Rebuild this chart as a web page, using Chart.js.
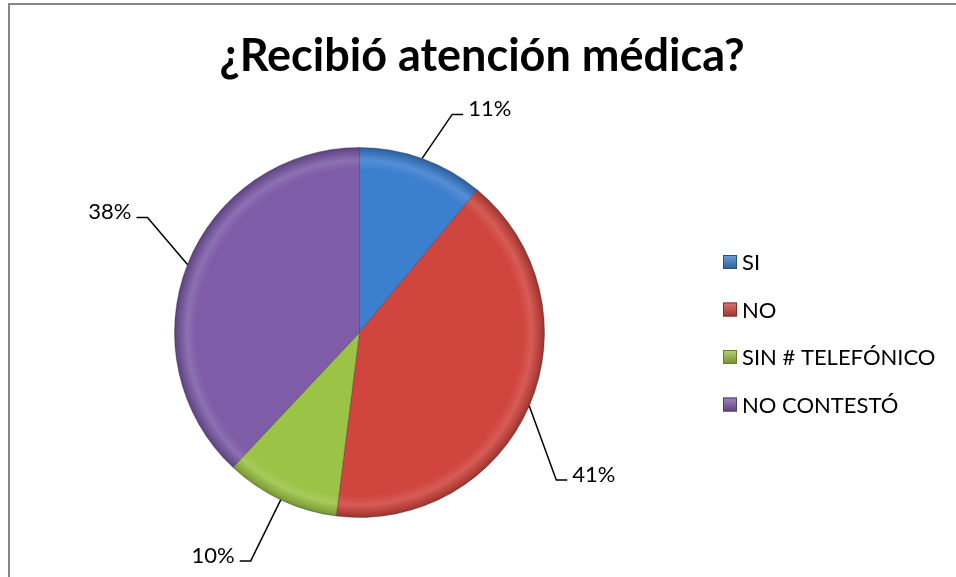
<!DOCTYPE html>
<html>
<head>
<meta charset="utf-8">
<script src="https://cdn.jsdelivr.net/npm/chart.js@4.4.0/dist/chart.umd.min.js"></script>
<style>
  html, body { margin: 0; padding: 0; background: #fff; }
  #wrap { position: relative; width: 956px; height: 577px; overflow: hidden; }
  #frame { position: absolute; left: 8px; top: 3px; width: 1000px; height: 700px;
           border-top: 2px solid #868686; border-left: 2px solid #868686; }
  #chart { position: absolute; left: 0; top: 0; }
</style>
</head>
<body>
<div id="wrap">
  <div id="frame"></div>
  <canvas id="chart" width="956" height="577"></canvas>
</div>
<script>
  'use strict';

  var chartTitle  = '¿Recibió atención médica?';
  var categories  = ['SI', 'NO', 'SIN # TELEFÓNICO', 'NO CONTESTÓ'];
  var percents    = [11, 41, 10, 38];
  var pctLabels   = ['11%', '41%', '10%', '38%'];

  var colors = {
    blue   : '#3D7FCF',
    red    : '#D0463F',
    green  : '#9BC345',
    purple : '#7E5CA8',
    line   : '#000',
    text   : '#000'
  }
  var sliceColors = [colors.blue, colors.red, colors.green, colors.purple];

  // where each leader line bends, relative to the rim point of its slice
  var leaderBend = [[30, -44], [27, 74], [-30, 61], [-40, -47]];

  var fontFamily = "Lato, 'Open Sans', sans-serif";

  function shade(hex, f) {
    var n = parseInt(hex.slice(1), 16);
    var r = (n >> 16) & 255, g = (n >> 8) & 255, b = n & 255;
    if (f < 0) { r = r * (1 + f); g = g * (1 + f); b = b * (1 + f); }
    else { r = r + (255 - r) * f; g = g + (255 - g) * f; b = b + (255 - b) * f; }
    return 'rgb(' + Math.round(r) + ',' + Math.round(g) + ',' + Math.round(b) + ')';
  }

  // rim bevel look, like the office pie
  function sliceFill(context) {
    var chart = context.chart;
    var area = chart.chartArea;
    if (!area) return sliceColors[context.dataIndex];
    var base = sliceColors[context.dataIndex];
    var cx = (area.left + area.right) / 2, cy = (area.top + area.bottom) / 2;
    var r = Math.min(area.right - area.left, area.bottom - area.top) / 2;
    var g = chart.ctx.createRadialGradient(cx, cy, 0, cx, cy, r);
    g.addColorStop(0, base);
    g.addColorStop(0.88, base);
    g.addColorStop(0.93, shade(base, 0.12));
    g.addColorStop(0.98, shade(base, -0.15));
    g.addColorStop(1, shade(base, -0.3));
    return g;
  }

  var overlay = {
    id: 'overlay',
    afterDatasetsDraw: function(chart) {
      var ctx = chart.ctx;
      var arcs = chart.getDatasetMeta(0).data;
      ctx.save();

      // title
      ctx.fillStyle = colors.text;
      ctx.font = 'bold 45px ' + fontFamily;
      ctx.textAlign = 'center';
      ctx.textBaseline = 'middle';
      ctx.fillText(chartTitle, 482, 56);

      // percentage labels with leader lines
      ctx.font = '22px ' + fontFamily;
      ctx.textBaseline = 'alphabetic';
      ctx.strokeStyle = colors.line;
      ctx.lineWidth = 1.5;
      arcs.forEach(function(arc, i) {
        var p = arc.getProps(['x', 'y', 'startAngle', 'endAngle', 'outerRadius'], true);
        var mid = (p.startAngle + p.endAngle) / 2;
        var x0 = p.x + Math.cos(mid) * p.outerRadius;
        var y0 = p.y + Math.sin(mid) * p.outerRadius;
        var x1 = x0 + leaderBend[i][0];
        var y1 = y0 + leaderBend[i][1];
        var side = leaderBend[i][0] > 0 ? 1 : -1;
        var x2 = x1 + side * 11;
        ctx.beginPath();
        ctx.moveTo(x0, y0);
        ctx.lineTo(x1, y1);
        ctx.lineTo(x2, y1);
        ctx.stroke();
        ctx.textAlign = side > 0 ? 'left' : 'right';
        ctx.fillText(pctLabels[i], x2 + side * 5, y1 + 2);
      });

      // legend
      ctx.textAlign = 'left';
      ctx.textBaseline = 'middle';
      categories.forEach(function(name, i) {
        var y = 262 + i * 47.5;
        var base = sliceColors[i];
        var g = ctx.createLinearGradient(0, y - 7, 0, y + 7);
        g.addColorStop(0, shade(base, 0.25));
        g.addColorStop(1, shade(base, -0.25));
        ctx.fillStyle = g;
        ctx.fillRect(723, y - 7, 14, 14);
        ctx.strokeStyle = shade(base, -0.35);
        ctx.lineWidth = 1;
        ctx.strokeRect(723.5, y - 6.5, 13, 13);
        ctx.fillStyle = colors.text;
        ctx.fillText(name, 742, y + 1);
      });

      ctx.restore();
    }
  };

  new Chart(document.getElementById('chart'), {
    type: 'pie',
    data: {
      labels: categories,
      datasets: [
        {
          data: percents,
          backgroundColor: sliceFill,
          borderColor: 'rgba(40, 40, 60, 0.35)',
          borderWidth: 1,
          hoverOffset: 0
        }
      ]
    },
    options: {
      responsive: false,
      animation: false,
      events: [],
      layout: {
        padding: { left: 174, top: 147, right: 411, bottom: 59 }
      },
      plugins: {
        legend: { display: false },
        title: { display: false },
        tooltip: { enabled: false }
      }
    },
    plugins: [overlay]
  });
</script>
</body>
</html>
